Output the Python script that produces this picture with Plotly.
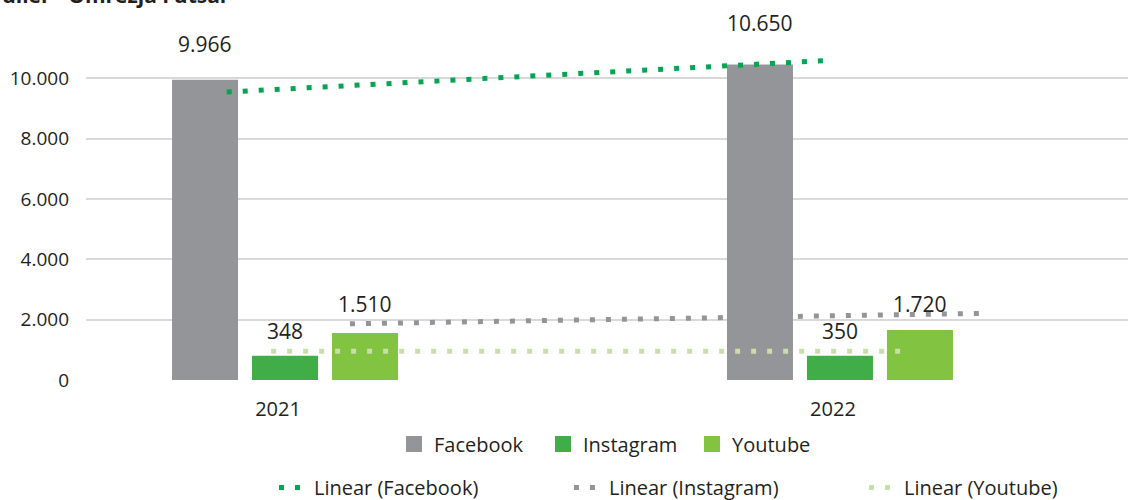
import plotly.graph_objects as go

# ---- data ----
years = ["2021", "2022"]
facebook = [9950, 10460]        # bar heights as drawn
instagram = [800, 800]
youtube = [1560, 1660]
facebook_labels = [9966, 10650]  # printed data labels
instagram_labels = [348, 350]
youtube_labels = [1510, 1720]

trend_x = [-0.105, 0.973]        # Facebook trend line ends (category units)
trend_facebook = [9546, 10586]
trend_x_instagram = [0.117, 1.254]
trend_instagram = [1864, 2209]
trend_x_youtube = [-0.025, 1.112]
trend_youtube = [950, 950]

y_ticks = [0, 2000, 4000, 6000, 8000, 10000]
title_text = "ulier - Omrežja Futsal"

# ---- styles ----
FONT = "Open Sans"
TXT = "#231f20"
C_FB, C_IG, C_YT = "#939598", "#40ad48", "#82c341"
C_TFB, C_TIG, C_TYT = "#00a651", "#939598", "#c6e0a8"

x_pos = list(range(len(years)))
fig = go.Figure()

for name, vals, col in [("Facebook", facebook, C_FB), ("Instagram", instagram, C_IG), ("Youtube", youtube, C_YT)]:
    fig.add_trace(go.Bar(x=x_pos, y=vals, name=name, marker=dict(color=col, line=dict(width=0)),
                         showlegend=False, hoverinfo="skip"))

# legend entries for bars (square swatches)
for name, col in [("Facebook", C_FB), ("Instagram", C_IG), ("Youtube", C_YT)]:
    fig.add_trace(go.Scatter(x=[None], y=[None], mode="markers", name=name,
                             marker=dict(symbol="square", size=22, color=col), legend="legend"))

dash = "5px,11px"
for name, xs, ys, col in [("Linear (Facebook)", trend_x, trend_facebook, C_TFB),
                          ("Linear (Instagram)", trend_x_instagram, trend_instagram, C_TIG),
                          ("Linear (Youtube)", trend_x_youtube, trend_youtube, C_TYT)]:
    fig.add_trace(go.Scatter(x=xs, y=ys, mode="lines", name=name, legend="legend2",
                             line=dict(color=col, width=5, dash=dash), hoverinfo="skip"))

def fmt(v):
    return f"{v:,}".replace(",", ".")

offsets = [-0.1441, 0.0, 0.1441]
label_shift = [[36, 41.5], [24.5, 24.5], [29, 26]]
for k, (vals, labs) in enumerate([(facebook, facebook_labels), (instagram, instagram_labels), (youtube, youtube_labels)]):
    for i in range(len(years)):
        fig.add_annotation(x=x_pos[i] + offsets[k], y=vals[i], text=fmt(labs[i]), showarrow=False,
                           yanchor="middle", yshift=label_shift[k][i],
                           font=dict(family=FONT, size=21, color=TXT))

fig.add_annotation(xref="paper", yref="paper", x=-0.0825, y=1.02, xanchor="left", yanchor="bottom",
                   text="<b>" + title_text + "</b>", showarrow=False,
                   font=dict(family=FONT, size=21, color=TXT))

fig.update_layout(
    width=1130, height=500,
    margin=dict(l=86, r=2, t=18, b=120, autoexpand=False),
    paper_bgcolor="white", plot_bgcolor="white",
    separators=",.",
    barmode="group", bargap=0.5676, bargroupgap=0.175,
    font=dict(family=FONT, size=19, color=TXT),
    xaxis=dict(range=[-0.3586, 1.519], tickvals=x_pos, ticktext=years, showgrid=False,
               zeroline=False, showline=False, ticks="", ticklabelstandoff=15, ticklabelshift=-7,
               automargin=False, tickfont=dict(family=FONT, size=20, color=TXT)),
    yaxis=dict(range=[0, 12000], tickvals=y_ticks, tickformat=",d", showgrid=True,
               gridcolor="#d9d9d9", gridwidth=2, zeroline=False, showline=False, ticks="",
               automargin=False, ticklabelstandoff=16, tickfont=dict(family=FONT, size=19, color=TXT)),
    legend=dict(orientation="h", xref="paper", yref="paper", x=0.2956, y=-0.177,
                xanchor="left", yanchor="middle", entrywidth=104,
                font=dict(family=FONT, size=20, color=TXT), bgcolor="rgba(0,0,0,0)"),
    legend2=dict(orientation="h", xref="paper", yref="paper", x=0.1804, y=-0.3508,
                 xanchor="left", yanchor="bottom", entrywidth=250,
                 font=dict(family=FONT, size=20, color=TXT), bgcolor="rgba(0,0,0,0)"),
)

fig.write_html("out.html", config={"displayModeBar": False},
               post_script="document.body.style.margin='0';")
